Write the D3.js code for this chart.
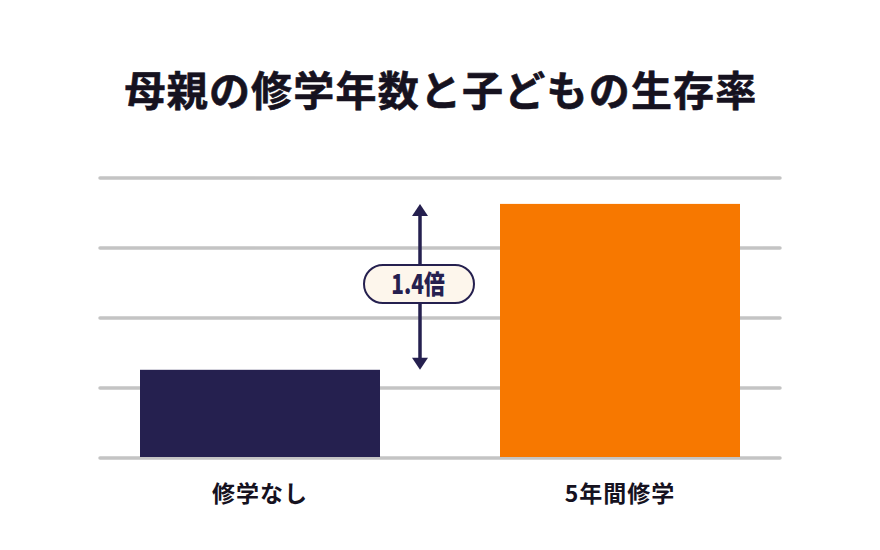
<!DOCTYPE html>
<html>
<head>
<meta charset="utf-8">
<script src="https://cdn.jsdelivr.net/npm/d3@7"></script>
<style>
  body { margin: 0; background: #fff; }
  text { font-family: "Noto Sans CJK JP", "Noto Sans", sans-serif; }
</style>
</head>
<body>
<script>
// データ
var categories = ["修学なし", "5年間修学"];
var values = [1.26, 3.63];
var gridTicks = [0, 1, 2, 3, 4];
var ratioLabel = "1.4倍";
var title = "母親の修学年数と子どもの生存率";

var width = 880,
    height = 550;

var colors = ["#25204f", "#f77800"];

var svg = d3.select("body").append("svg")
    .attr("width", width)
    .attr("height", height);

// スケール
var x = d3.scaleBand()
    .domain(categories)
    .range([80, 800])
    .paddingInner(1 / 3)
    .paddingOuter(1 / 6);

var y = d3.scaleLinear()
    .domain([0, 4])
    .range([458, 178]);

// タイトル
svg.append("text")
    .attr("x", width / 2 + 1)
    .attr("y", 106)
    .attr("text-anchor", "middle")
    .attr("font-size", 41)
    .attr("font-weight", 700)
    .attr("letter-spacing", 1.2)
    .attr("fill", "#16121f")
    .attr("stroke", "#16121f")
    .attr("stroke-width", 0.6)
    .text(title);

// グリッド線
svg.append("g")
    .selectAll("line")
    .data(gridTicks)
    .enter().append("line")
    .attr("x1", 100)
    .attr("x2", 780)
    .attr("y1", function (d) { return y(d); })
    .attr("y2", function (d) { return y(d); })
    .attr("stroke", "#c4c4c4")
    .attr("stroke-width", 3.5)
    .attr("stroke-linecap", "round");

// 棒
svg.append("g")
    .selectAll("rect")
    .data(values)
    .enter().append("rect")
    .attr("x", function (d, i) { return x(categories[i]); })
    .attr("y", function (d) { return y(d); })
    .attr("width", x.bandwidth())
    .attr("height", function (d) { return y(0) - y(d) - 1; })
    .attr("fill", function (d, i) { return colors[i]; });

// x軸ラベル
var xAxis = svg.append("g")
    .attr("transform", "translate(0," + y(0) + ")")
    .call(d3.axisBottom(x).tickSize(0).tickPadding(0));
xAxis.select(".domain").remove();
xAxis.selectAll("text")
    .attr("y", 44)
    .attr("dy", 0)
    .attr("font-size", 23)
    .attr("font-weight", 700)
    .attr("letter-spacing", 1)
    .attr("fill", "#16121f")
    .attr("font-family", "\"Noto Sans CJK JP\", sans-serif");

// 倍率の矢印
var ax = x(categories[0]) + x.bandwidth() + 40,
    yTop = y(values[1]),
    yBot = y(values[0]),
    navy = "#25204f";

var arrow = svg.append("g");

arrow.append("line")
    .attr("x1", ax).attr("x2", ax)
    .attr("y1", yTop + 8).attr("y2", yBot - 8)
    .attr("stroke", navy)
    .attr("stroke-width", 3.5);

arrow.append("path")
    .attr("d", "M" + ax + "," + yTop + "l-8,12h16z")
    .attr("fill", navy);

arrow.append("path")
    .attr("d", "M" + ax + "," + yBot + "l-8,-12h16z")
    .attr("fill", navy);

var my = 284;
arrow.append("rect")
    .attr("x", ax - 56)
    .attr("y", my - 19)
    .attr("width", 110)
    .attr("height", 38)
    .attr("rx", 19)
    .attr("fill", "#fdf6ec")
    .attr("stroke", navy)
    .attr("stroke-width", 2);

arrow.append("text")
    .attr("x", ax - 2)
    .attr("y", my + 10)
    .attr("text-anchor", "middle")
    .attr("font-size", 26)
    .attr("font-weight", 900)
    .attr("fill", navy)
    .attr("transform", "translate(" + (ax - 2) + ",0) scale(0.8,1) translate(" + -(ax - 2) + ",0)")
    .text(ratioLabel);
</script>
</body>
</html>
